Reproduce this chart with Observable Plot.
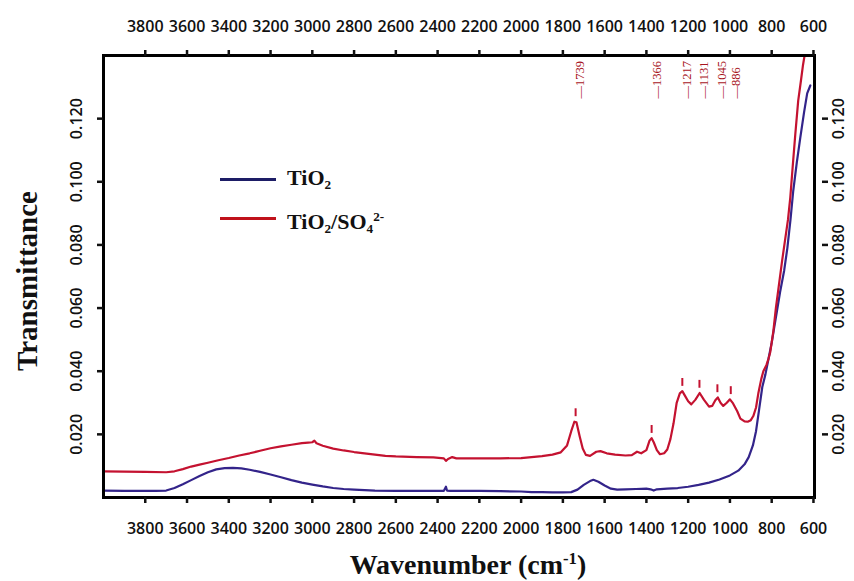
<!DOCTYPE html>
<html><head><meta charset="utf-8">
<script src="https://cdn.jsdelivr.net/npm/d3@7"></script>
<script src="https://cdn.jsdelivr.net/npm/@observablehq/plot@0.6"></script>
<style>
body{margin:0;background:#fff;}
#wrap{position:relative;width:854px;height:581px;overflow:hidden;}
.ov{position:absolute;white-space:nowrap;font-family:"Liberation Serif","Times New Roman",serif;font-weight:bold;color:#111;}
.lg{position:absolute;height:3px;}
sub{font-size:0.6em;vertical-align:-0.3em;}
sup{font-size:0.6em;vertical-align:0.6em;}
</style></head><body><div id="wrap"></div>
<script>
// TiO2 spectrum
const tio2Wn = [4000,3900,3800,3750,3700,3660,3620,3580,3540,3500,3460,3420,3380,3340,3300,3250,3200,3150,3100,3050,3000,2950,2900,2850,2800,2700,2600,2500,2400,2370,2360,2355,2340,2300,2200,2100,2000,1950,1900,1850,1800,1760,1730,1700,1670,1654,1630,1600,1570,1540,1500,1450,1400,1380,1365,1350,1300,1250,1200,1150,1100,1050,1000,960,930,910,890,875,860,845,830,815,800,790,775,760,740,725,710,697,680,663,645,630,615];
const tio2T = [0.0022,0.0021,0.0021,0.0021,0.0022,0.0030,0.0042,0.0055,0.0068,0.0080,0.0089,0.0093,0.0094,0.0092,0.0088,0.0081,0.0073,0.0064,0.0055,0.0047,0.0041,0.0035,0.0030,0.0027,0.0025,0.0022,0.0021,0.0021,0.0021,0.0021,0.0034,0.0022,0.0021,0.0021,0.0021,0.0020,0.0019,0.0017,0.0017,0.0016,0.0016,0.0017,0.0025,0.0040,0.0052,0.0056,0.0050,0.0038,0.0028,0.0025,0.0026,0.0027,0.0028,0.0026,0.0022,0.0026,0.0028,0.0030,0.0034,0.0040,0.0047,0.0057,0.0070,0.0085,0.0105,0.0128,0.0165,0.0210,0.0280,0.0350,0.0390,0.0440,0.0490,0.0530,0.0590,0.0650,0.0720,0.0790,0.0880,0.0970,0.1060,0.1140,0.1220,0.1280,0.1305];
// TiO2/SO4 2- spectrum
const sulfWn = [4000,3900,3800,3700,3660,3620,3580,3540,3500,3450,3400,3350,3300,3250,3200,3150,3100,3050,3020,3000,2990,2980,2950,2900,2850,2800,2750,2700,2650,2600,2500,2420,2370,2360,2350,2330,2310,2250,2100,2000,1900,1850,1810,1780,1760,1745,1735,1720,1705,1690,1670,1640,1620,1590,1550,1500,1470,1445,1425,1400,1385,1375,1365,1350,1335,1315,1300,1285,1270,1255,1240,1228,1215,1200,1185,1165,1145,1125,1100,1085,1070,1058,1045,1032,1015,1000,985,965,950,930,915,900,888,875,864,850,840,825,815,807,792,780,768,750,735,722,711,698,687,673,660,650,640,630];
const sulfT = [0.0083,0.0082,0.0081,0.0080,0.0083,0.0090,0.0098,0.0104,0.0110,0.0118,0.0125,0.0133,0.0140,0.0148,0.0156,0.0162,0.0167,0.0172,0.0174,0.0175,0.0180,0.0172,0.0164,0.0155,0.0149,0.0144,0.0140,0.0136,0.0132,0.0130,0.0128,0.0127,0.0124,0.0116,0.0122,0.0128,0.0124,0.0124,0.0124,0.0125,0.0131,0.0136,0.0143,0.0165,0.0210,0.0240,0.0238,0.0195,0.0155,0.0135,0.0132,0.0145,0.0147,0.0140,0.0136,0.0133,0.0134,0.0145,0.0140,0.0150,0.0180,0.0188,0.0175,0.0150,0.0137,0.0140,0.0152,0.0185,0.0235,0.0300,0.0330,0.0337,0.0322,0.0305,0.0295,0.0310,0.0331,0.0310,0.0288,0.0290,0.0308,0.0317,0.0300,0.0290,0.0300,0.0311,0.0298,0.0273,0.0250,0.0241,0.0240,0.0245,0.0258,0.0285,0.0330,0.0375,0.0400,0.0420,0.0440,0.0460,0.0527,0.0600,0.0660,0.0750,0.0820,0.0880,0.0950,0.1060,0.1150,0.1257,0.1320,0.1370,0.1410,0.1450];

const xTicks = [3800,3600,3400,3200,3000,2800,2600,2400,2200,2000,1800,1600,1400,1200,1000,800,600];
const yTicks = [0.020,0.040,0.060,0.080,0.100,0.120];
const peakLabels = ["1739","1366","1217","1131","1045","886"];
const peakPos = [1739,1375,1228,1146,1060,996];
const peakTop = [0.0241,0.0188,0.0337,0.0331,0.0317,0.0311];
const seriesNames = ["TiO<sub>2</sub>","TiO<sub>2</sub>/SO<sub>4</sub><sup>2-</sup>"];
const seriesColors = ["#33248a","#c41230"];
const legendColors = ["#1d1d66","#c0121b"];

const tio2 = tio2Wn.map((w,i)=>({w, t: tio2T[i]}));
const sulf = sulfWn.map((w,i)=>({w, t: sulfT[i]}));
const peaks = peakLabels.map((l,i)=>({label:l, pos:peakPos[i], top:peakTop[i]}));
const fmtY = d3.format(".3f");
const tickOpts = {tickSize:6, strokeWidth:2.5, fontSize:16, fontWeight:600, label:null};

const plot = Plot.plot({
  width:854, height:581, marginLeft:103, marginRight:40, marginTop:55, marginBottom:84,
  x:{domain:[4000,595]}, y:{domain:[0,0.14]},
  style:{fontFamily:"'Open Sans', sans-serif", fontSize:"16px", fontWeight:600, color:"#111", background:"transparent", overflow:"visible"},
  marks:[
    Plot.line(tio2,{x:"w",y:"t",stroke:seriesColors[0],strokeWidth:2.2,clip:true}),
    Plot.line(sulf,{x:"w",y:"t",stroke:seriesColors[1],strokeWidth:2.2,clip:true}),
    Plot.ruleX(peaks,{x:"pos",y1:d=>d.top+0.0015,y2:d=>d.top+0.0040,stroke:seriesColors[1],strokeWidth:2}),
    Plot.text(peaks,{x:"pos",frameAnchor:"top",dy:43,text:d=>"\u2014"+d.label,rotate:-90,textAnchor:"start",fill:"#a8141e",fontFamily:"'Liberation Serif', serif",fontSize:12.5,fontWeight:400}),
    Plot.frame({stroke:"#000",strokeWidth:3}),
    Plot.axisX(xTicks,{anchor:"bottom",tickPadding:19,tickFormat:"d",...tickOpts}),
    Plot.axisX(xTicks,{anchor:"top",tickPadding:18,tickFormat:"d",...tickOpts}),
    Plot.axisY(yTicks,{anchor:"left",tickRotate:-90,tickPadding:16,tickFormat:fmtY,...tickOpts}),
    Plot.axisY(yTicks,{anchor:"right",tickRotate:-90,tickPadding:16,dx:7,tickFormat:fmtY,...tickOpts})
  ]
});
const wrap = document.getElementById("wrap");
wrap.appendChild(plot);

function ov(html, css){ const d=document.createElement("div"); d.className="ov"; d.innerHTML=html; Object.assign(d.style, css); wrap.appendChild(d); return d; }
ov("Wavenumber (cm<sup>-1</sup>)",{left:"468px",top:"545px",fontSize:"28px",lineHeight:"28px",transform:"translateX(-50%)"});
ov("Transmittance",{left:"27px",top:"281px",fontSize:"29px",lineHeight:"29px",transform:"translate(-50%,-50%) rotate(-90deg)"});
const legendY = [179,218];
seriesNames.forEach((n,i)=>{
  const l=document.createElement("div"); l.className="lg";
  Object.assign(l.style,{left:"220px",width:"56px",top:(legendY[i]-1.5)+"px",background:legendColors[i]});
  wrap.appendChild(l);
  ov(n,{left:"287px",top:(legendY[i]-13)+"px",fontSize:"22px",lineHeight:"24px"});
});
</script></body></html>
